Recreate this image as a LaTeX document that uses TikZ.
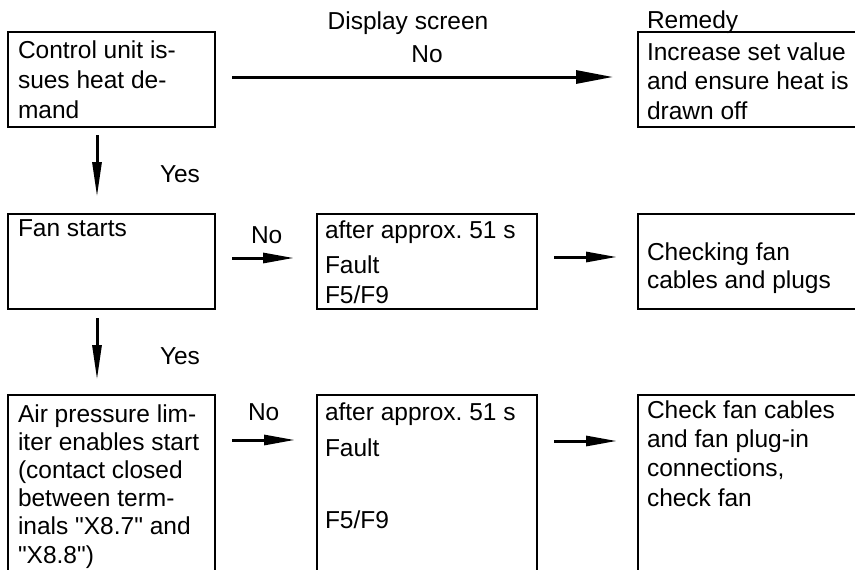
\documentclass[tikz,border=0pt]{standalone}
\usepackage{fontspec}
\setmainfont{Liberation Sans}
\newfontfamily\plainq{Liberation Sans}
\usetikzlibrary{arrows.meta}
\newcommand{\sq}{{\plainq"}}
\tikzset{
  box/.style={draw, line width=2.4pt, inner sep=0pt, outer sep=0pt, anchor=north west},
  txt/.style={anchor=base west, inner sep=0pt, outer sep=0pt, align=left, font=\fontsize{24.5}{#1}\selectfont\frenchspacing},
  lbl/.style={inner sep=0pt, outer sep=0pt, font=\fontsize{24.5}{29}\selectfont},
  shaft/.style={line width=3pt},
  harr/.style={shaft, -{Triangle[length=37pt,width=13pt]}},
  sarr/.style={shaft, -{Triangle[length=31pt,width=10pt]}},
  varr/.style={shaft, -{Triangle[length=35pt,width=9pt]}}
}
\begin{document}
\begin{tikzpicture}[x=1pt,y=-1pt]
\useasboundingbox (0,0) rectangle (855,570);
\clip (0,0) rectangle (855,570);
% boxes
\node[box, minimum width=207pt, minimum height=95pt] (b1) at (8,32) {};
\node[box, minimum width=240pt, minimum height=95pt] (r1) at (638,32) {};
\node[box, minimum width=207pt, minimum height=95pt] (b2) at (8,214) {};
\node[box, minimum width=220pt, minimum height=95pt] (m2) at (317,214) {};
\node[box, minimum width=240pt, minimum height=95pt] (r2) at (638,214) {};
\node[box, minimum width=207pt, minimum height=200pt] (b3) at (8,395) {};
\node[box, minimum width=220pt, minimum height=200pt] (m3) at (317,395) {};
\node[box, minimum width=240pt, minimum height=200pt] (r3) at (638,395) {};
% box texts (anchored at the baseline of their last line)
\node[txt=30] (t1) at (18,118) {Control unit is-\\sues heat de-\\mand};
\node[txt=29.5] (tr1) at (647,119) {Increase set value\\and ensure heat is\\drawn off};
\node[txt=30] (t2) at (18,236) {Fan starts};
\node[txt=30] (tm2) at (325,303) {after approx. 51 s\\[5pt]Fault\\F5/F9};
\node[txt=28] (tr2) at (647,288) {Checking fan\\cables and plugs};
\node[txt=28.2] (t3) at (18,563) {Air pressure lim-\\iter enables start\\(contact closed\\between term-\\inals \sq X8.7\sq{} and\\\sq X8.8\sq)};
\node[txt=30] (tm3) at (325,528) {after approx. 51 s\\[6pt]Fault\\[42pt]F5/F9};
\node[txt=29.3] (tr3) at (647,506) {Check fan cables\\and fan plug-in\\connections,\\check fan};
% labels
\node[lbl, anchor=base] (disp) at (408,29) {Display screen};
\node[lbl, anchor=base] (no1) at (427,62) {No};
\node[lbl, anchor=base west] (rem) at (647,28) {Remedy};
\node[lbl, anchor=base west] (yes1) at (160,182) {Yes};
\node[lbl, anchor=base west] (yes2) at (160,364) {Yes};
\node[lbl, anchor=base west] (no2) at (251,243) {No};
\node[lbl, anchor=base west] (no3) at (248,420) {No};
% connectors
\draw[harr, shorten <=17pt, shorten >=25pt] ([yshift=-45pt]b1.north east) -- ([yshift=-45pt]r1.north west);
\draw[varr, shorten <=8pt, shorten >=17pt] ([xshift=89pt]b1.south west) -- ([xshift=89pt]b2.north west);
\draw[varr, shorten <=9pt, shorten >=15pt] ([xshift=89pt]b2.south west) -- ([xshift=89pt]b3.north west);
\draw[sarr, shorten <=17pt, shorten >=23pt] ([yshift=-44pt]b2.north east) -- ([yshift=-44pt]m2.north west);
\draw[sarr, shorten <=17pt, shorten >=21pt] ([yshift=-43pt]m2.north east) -- ([yshift=-43pt]r2.north west);
\draw[sarr, shorten <=17pt, shorten >=22pt] ([yshift=-45pt]b3.north east) -- ([yshift=-45pt]m3.north west);
\draw[sarr, shorten <=17pt, shorten >=21pt] ([yshift=-46pt]m3.north east) -- ([yshift=-46pt]r3.north west);
\end{tikzpicture}
\end{document}
